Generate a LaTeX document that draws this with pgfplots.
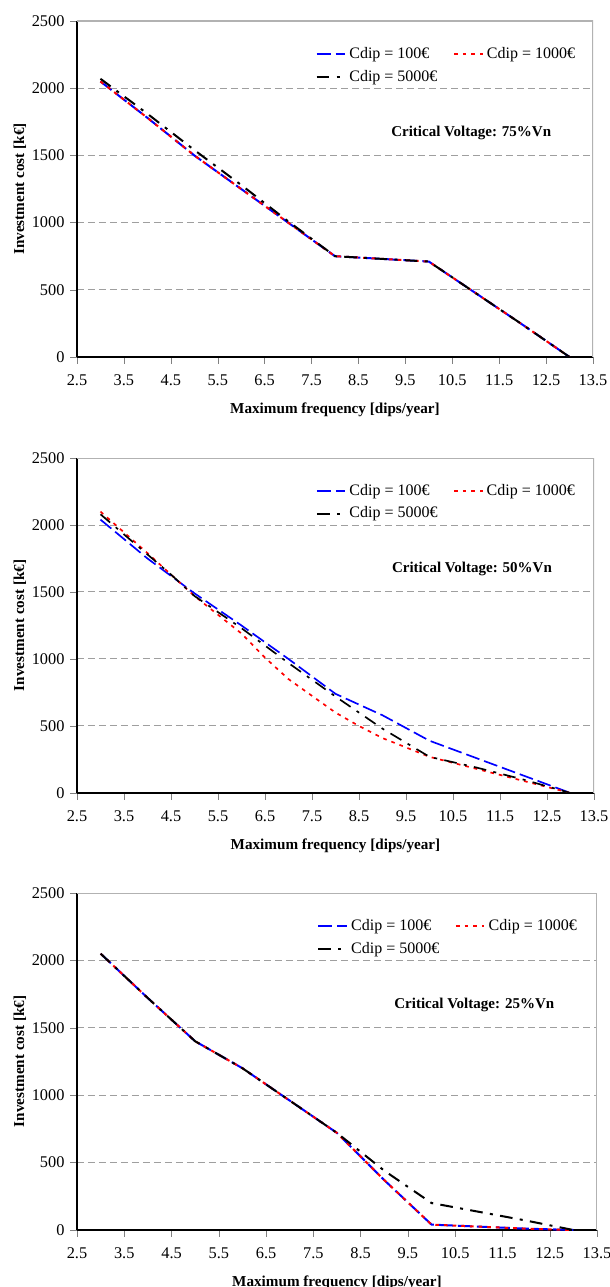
\documentclass[border=0pt]{standalone}
\usepackage{fontspec}
\setmainfont{Liberation Serif}
\usepackage{pgfplots}
\pgfplotsset{compat=1.18}

\tikzset{cvnode/.style={font=\fontsize{9}{11}\selectfont\bfseries}}

\pgfplotsset{
  dipaxis/.style={
    scale only axis,
    anchor=south west,
    xmin=2.5, xmax=13.5, ymin=0, ymax=2500,
    xtick={2.5,3.5,4.5,5.5,6.5,7.5,8.5,9.5,10.5,11.5,12.5,13.5},
    xticklabels={2.5,3.5,4.5,5.5,6.5,7.5,8.5,9.5,10.5,11.5,12.5,13.5},
    ytick={0,500,1000,1500,2000,2500},
    /pgf/number format/assume math mode=true,
    /pgf/number format/1000 sep={},
    tick align=outside, tick pos=left,
    major tick length=4pt,
    axis x line*=bottom, axis y line*=left,
    axis line style={black, line width=0.7pt},
    ymajorgrids=true,
    major grid style={gray!75, dash pattern=on 4pt off 2.6pt, line width=0.6pt},
    every axis plot/.append style={line width=1.2pt},
    tick label style={font=\fontsize{9.8}{11}\selectfont},
    xticklabel style={yshift=-3pt},
    xlabel={\textbf{Maximum frequency [dips/year]}},
    ylabel={\textbf{Investment cost [k€]}},
    label style={font=\fontsize{9.1}{11}\selectfont},
    xlabel style={yshift=-3.2pt},
    ylabel style={yshift=-3.5pt},
    legend columns=2,
    legend style={at={(0.452,0.943)}, anchor=north west, draw=none, fill=none,
      font=\fontsize{9.6}{11}\selectfont, row sep=1.5pt,
      /tikz/every even column/.append style={column sep=7.4pt}},
    legend cell align=left,
  },
  c100/.style={blue, dash pattern=on 8.4pt off 3pt},
  c1000/.style={red, dash pattern=on 2.2pt off 3pt},
  c5000/.style={black, dash pattern=on 7.6pt off 4.4pt on 1.8pt off 4.4pt},
}

\begin{document}
\begin{tikzpicture}
\useasboundingbox (-46.2pt,-34.2pt) rectangle (319.8pt,738pt);

% ---- Critical voltage 75%
\begin{axis}[dipaxis, at={(0pt,523.8pt)}, width=309.6pt, height=201.6pt]
\draw[gray!60, line width=0.8pt] (rel axis cs:0,1) -- (rel axis cs:1,1) -- (rel axis cs:1,0);
\addplot[c100] coordinates {(3,2050) (4,1780) (5,1500) (6,1250) (7,1000) (8,750) (9,730) (10,710) (11,475) (12,240) (13,0)};
\addplot[c1000] coordinates {(3,2050) (4,1780) (5,1500) (6,1250) (7,1000) (8,750) (9,730) (10,710) (11,475) (12,240) (13,0)};
\addplot[c5000] coordinates {(3,2070) (4,1810) (5,1540) (6,1280) (7,1010) (8,750) (9,730) (10,710) (11,475) (12,240) (13,0)};
\legend{Cdip = 100€, Cdip = 1000€, Cdip = 5000€}
\node[cvnode] at (rel axis cs:0.764,0.668) {Critical Voltage: 75\%Vn};
\end{axis}

% ---- Critical voltage 50%
\begin{axis}[dipaxis, at={(0pt,262.2pt)}, width=310.2pt, height=201pt,
  every axis plot/.append style={line width=1pt}]
\draw[gray!60, line width=0.8pt] (rel axis cs:0,1) -- (rel axis cs:1,1) -- (rel axis cs:1,0);
\addplot[c100] coordinates {(3,2040) (4,1750) (5,1490) (6,1250) (7,1000) (8,740) (9,580) (10,390) (11,260) (12,130) (13,0)};
\addplot[c1000] coordinates {(3,2100) (4,1790) (4.5,1630) (5,1470) (6,1190) (6.5,1010) (7,850) (8,600) (8.5,500) (9,410) (10,270) (11,180) (12,90) (13,0)};
\addplot[c5000] coordinates {(3,2080) (4,1780) (4.5,1630) (5,1470) (6,1230) (6.5,1100) (7,970) (8,720) (9,480) (10,270) (11,190) (12,100) (13,0)};
\legend{Cdip = 100€, Cdip = 1000€, Cdip = 5000€}
\node[cvnode] at (rel axis cs:0.764,0.668) {Critical Voltage: 50\%Vn};
\end{axis}

% ---- Critical voltage 25%
\begin{axis}[dipaxis, at={(0pt,0pt)}, width=312pt, height=202.2pt]
\draw[gray!60, line width=0.8pt] (rel axis cs:0,1) -- (rel axis cs:1,1) -- (rel axis cs:1,0);
\addplot[c100] coordinates {(3,2050) (4,1720) (5,1400) (6,1200) (7,960) (8,720) (9,370) (10,40) (11,25) (12,10) (13,0)};
\addplot[c1000] coordinates {(3,2050) (4,1720) (5,1400) (6,1200) (7,960) (8,720) (9,370) (10,40) (11,25) (12,10) (13,0)};
\addplot[c5000] coordinates {(3,2050) (4,1720) (5,1400) (6,1200) (7,960) (8,720) (9,440) (10,200) (11,135) (12,70) (13,0)};
\legend{Cdip = 100€, Cdip = 1000€, Cdip = 5000€}
\node[cvnode] at (rel axis cs:0.764,0.668) {Critical Voltage: 25\%Vn};
\end{axis}
\end{tikzpicture}
\end{document}
